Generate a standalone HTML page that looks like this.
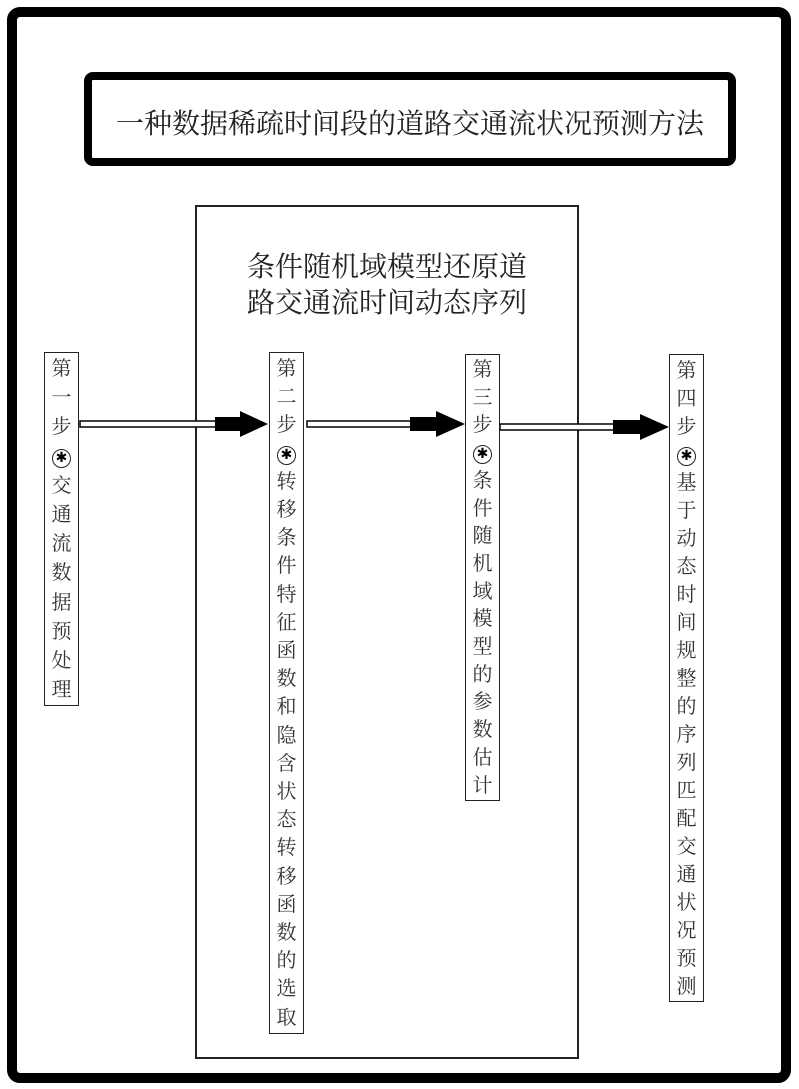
<!DOCTYPE html>
<html><head><meta charset="utf-8"><style>
body{margin:0;width:799px;height:1089px;background:#fff;position:relative;overflow:hidden;font-family:"Liberation Serif","Noto Serif CJK SC",serif;color:#333}
.ab{position:absolute}
.step{position:absolute;border:1.5px solid #222;background:#fff;box-sizing:border-box;text-align:center;font-size:20px;padding-top:2px;width:35px}
.step span{display:block}
.c{display:inline-block;width:17px;height:17px;border:1.5px solid #222;border-radius:50%;font-size:14px;line-height:17px;color:#000;vertical-align:middle;font-family:"DejaVu Sans",sans-serif}
</style></head><body>
<svg class="ab" style="left:0;top:0" width="799" height="1089">
<rect x="12" y="12" width="774" height="1066" rx="8" fill="none" stroke="#000" stroke-width="10"/>
<rect x="88" y="76" width="644" height="86" rx="5" fill="none" stroke="#000" stroke-width="8"/>
<rect x="196" y="206" width="382" height="852" fill="none" stroke="#222" stroke-width="2"/>
<g stroke="#000" stroke-width="1.5">
<rect x="80" y="421" width="136" height="6" fill="#fff"/>
<rect x="307" y="421" width="104" height="6" fill="#fff"/>
<rect x="500" y="424" width="114" height="6" fill="#fff"/>
</g>
<g fill="#000">
<rect x="215" y="417" width="28" height="14"/><polygon points="240,411 268,424 240,437"/>
<rect x="410" y="417" width="30" height="14"/><polygon points="436,411 465,424 436,437"/>
<rect x="613" y="420" width="30" height="14"/><polygon points="640,414 669,427 640,440"/>
</g>
</svg>
<div class="ab" style="left:88px;top:102px;width:644px;text-align:center;font-size:28px;color:#222">一种数据稀疏时间段的道路交通流状况预测方法</div>
<div class="ab" style="left:196px;top:250px;width:382px;text-align:center;font-size:28px;line-height:36px;color:#222">条件随机域模型还原道<br>路交通流时间动态序列</div>
<div class="step" style="left:44px;top:352px;height:354px;line-height:29.2px"><span>第</span><span>一</span><span>步</span><span><i class="c">✱</i></span><span>交</span><span>通</span><span>流</span><span>数</span><span>据</span><span>预</span><span>处</span><span>理</span></div>
<div class="step" style="left:269px;top:352px;height:682px;line-height:28.2px"><span>第</span><span>二</span><span>步</span><span><i class="c">✱</i></span><span>转</span><span>移</span><span>条</span><span>件</span><span>特</span><span>征</span><span>函</span><span>数</span><span>和</span><span>隐</span><span>含</span><span>状</span><span>态</span><span>转</span><span>移</span><span>函</span><span>数</span><span>的</span><span>选</span><span>取</span></div>
<div class="step" style="left:465px;top:354px;height:447px;line-height:27.7px"><span>第</span><span>三</span><span>步</span><span><i class="c">✱</i></span><span>条</span><span>件</span><span>随</span><span>机</span><span>域</span><span>模</span><span>型</span><span>的</span><span>参</span><span>数</span><span>估</span><span>计</span></div>
<div class="step" style="left:669px;top:354px;height:648px;line-height:28px"><span>第</span><span>四</span><span>步</span><span><i class="c">✱</i></span><span>基</span><span>于</span><span>动</span><span>态</span><span>时</span><span>间</span><span>规</span><span>整</span><span>的</span><span>序</span><span>列</span><span>匹</span><span>配</span><span>交</span><span>通</span><span>状</span><span>况</span><span>预</span><span>测</span></div>
</body></html>
